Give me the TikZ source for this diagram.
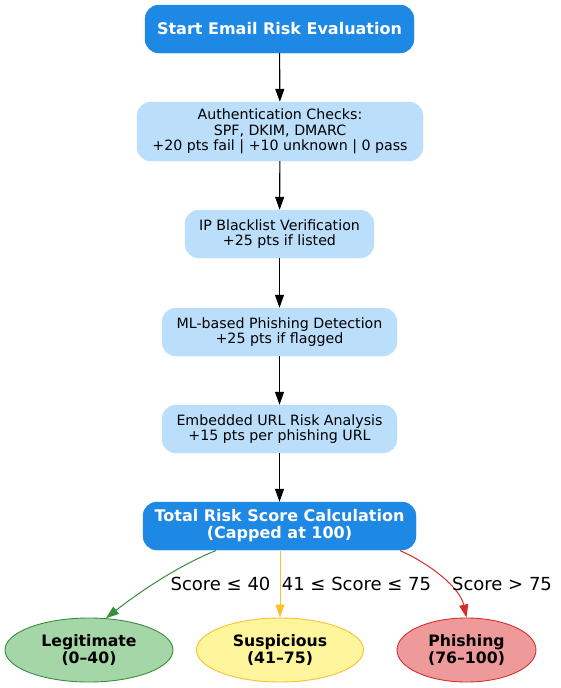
\documentclass[tikz,border=0pt]{standalone}
\usepackage{fontspec}
\setmainfont{DejaVu Sans}
\usetikzlibrary{arrows.meta,shapes.geometric}
\definecolor{dblue}{HTML}{1E88E5}
\definecolor{lblue}{HTML}{BBDEFB}
\definecolor{gfill}{HTML}{A5D6A7}
\definecolor{gline}{HTML}{388E3C}
\definecolor{yfill}{HTML}{FFF59D}
\definecolor{yline}{HTML}{FBC02D}
\definecolor{rfill}{HTML}{EF9A9A}
\definecolor{rline}{HTML}{D32F2F}
\tikzset{
  darkbox/.style={draw=dblue, fill=dblue, rounded corners=14pt, text=white, align=center,
    font=\fontsize{16}{17}\selectfont\bfseries, inner sep=0pt},
  lightbox/.style={draw=lblue, fill=lblue, rounded corners=14pt, text=black, align=center,
    font=\fontsize{14.2}{15.7}\selectfont, inner sep=0pt},
  outcome/.style={ellipse, draw, line width=0.9pt, align=center, inner sep=0pt,
    font=\fontsize{15.7}{17.5}\selectfont\bfseries},
  flow/.style={-{Triangle[length=13pt,width=9pt]}, line width=1.1pt, black},
  cflow/.style={-{Triangle[length=13pt,width=9pt]}, line width=1pt},
  elabel/.style={font=\fontsize{18}{20}\selectfont, text=black, inner sep=0pt}
}
\begin{document}
\begin{tikzpicture}[x=1pt,y=-1pt]
\useasboundingbox (0,0) rectangle (560,688);
\node[darkbox, minimum width=269pt, minimum height=48pt] (start) at (279.5,29) {Start Email Risk Evaluation};
\node[lightbox, minimum width=286pt, minimum height=59pt] (auth) at (280,131.5) {Authentication Checks:\\SPF, DKIM, DMARC\\+20 pts fail | +10 unknown | 0 pass};
\node[lightbox, minimum width=189pt, minimum height=48pt] (ip) at (279.5,234) {IP Blacklist Verification\\+25 pts if listed};
\node[lightbox, minimum width=235pt, minimum height=48pt] (ml) at (279.5,332) {ML-based Phishing Detection\\+25 pts if flagged};
\node[lightbox, minimum width=235pt, minimum height=48pt] (url) at (279.5,429) {Embedded URL Risk Analysis\\+15 pts per phishing URL};
\node[darkbox, minimum width=273pt, minimum height=48pt] (total) at (279.5,526) {Total Risk Score Calculation\\(Capped at 100)};
\node[outcome, draw=gline, fill=gfill, minimum width=168pt, minimum height=64pt] (legit) at (89,650) {Legitimate\\(0--40)};
\node[outcome, draw=yline, fill=yfill, minimum width=167pt, minimum height=64pt] (susp) at (280,650) {Suspicious\\(41--75)};
\node[outcome, draw=rline, fill=rfill, minimum width=139pt, minimum height=64pt] (phish) at (466.5,650) {Phishing\\(76--100)};
\draw[flow] (start) -- (auth);
\draw[flow] (auth) -- (ip);
\draw[flow] (ip) -- (ml);
\draw[flow] (ml) -- (url);
\draw[flow] (url) -- (total);
\coordinate (tl) at (216,550.5);
\coordinate (tm) at (280,550.5);
\coordinate (tr) at (400,550.5);
\draw[cflow, gline] (tl) .. controls (180,565) and (142,590) .. (legit.62);
\draw[cflow, yline] (tm) -- (susp.north);
\draw[cflow, rline] (tr) .. controls (432,565) and (460,588) .. (phish.north);
\node[elabel] (l1) at (220.5,584) {Score ≤ 40};
\node[elabel] (l2) at (356.5,584) {41 ≤ Score ≤ 75};
\node[elabel] (l3) at (502,584) {Score > 75};
\end{tikzpicture}
\end{document}
